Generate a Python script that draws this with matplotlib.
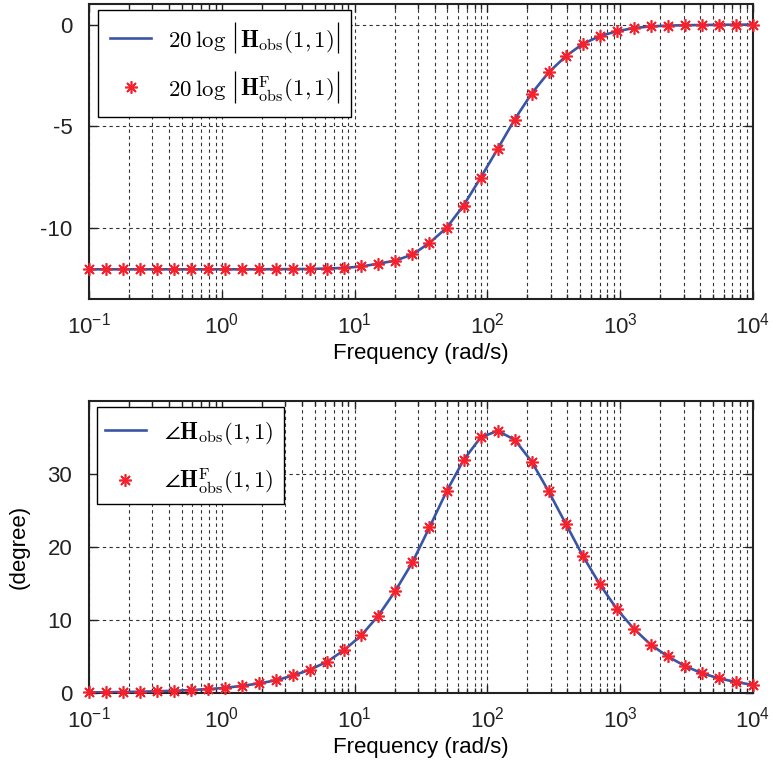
import numpy as np
import matplotlib
matplotlib.use("Agg")
import matplotlib.pyplot as plt
from matplotlib.ticker import LogLocator, NullFormatter, FixedLocator
from matplotlib.offsetbox import (AnchoredOffsetbox, HPacker, VPacker,
                                  TextArea, DrawingArea)
from matplotlib.lines import Line2D

plt.rcParams["font.family"] = ["Liberation Sans", "DejaVu Sans"]
plt.rcParams["axes.unicode_minus"] = False

# Frequency sweep (rad/s)
freq = [0.1, 0.1343, 0.1805, 0.2424, 0.3257, 0.4376, 0.5878, 0.7897,
        1.0608, 1.4251, 1.9145, 2.5721, 3.4551, 4.6416, 6.2355, 8.3768,
        11.253, 15.118, 20.309, 27.283, 36.652, 49.239, 66.147, 88.862,
        119.38, 160.37, 215.44, 289.43, 388.81, 522.33, 701.70, 942.67,
        1266.4, 1701.2, 2285.4, 3070.2, 4124.5, 5541.0, 7443.9, 10000.0]

# Magnitude in dB
mag_db = [-12.04, -12.04, -12.04, -12.04, -12.04, -12.04, -12.04, -12.04,
          -12.04, -12.04, -12.04, -12.03, -12.03, -12.02, -12.00, -11.97,
          -11.90, -11.76, -11.61, -11.31, -10.74, -10.00, -8.90, -7.54,
          -6.12, -4.67, -3.39, -2.35, -1.56, -0.95, -0.57, -0.33,
          -0.17, -0.09, -0.05, -0.03, -0.02, -0.01, -0.005, 0.0]

# Phase in degrees
phase_deg = [0.07, 0.10, 0.13, 0.17, 0.23, 0.30, 0.40, 0.53,
             0.70, 0.98, 1.30, 1.75, 2.40, 3.20, 4.30, 5.90,
             7.90, 10.6, 14.0, 17.9, 22.7, 27.6, 31.9, 35.0,
             35.9, 34.7, 31.7, 27.6, 23.2, 18.8, 14.9, 11.5,
             8.8, 6.6, 5.0, 3.7, 2.7, 2.0, 1.5, 1.1]

# Legend entries: (text before |, text inside |...|) ; None prefix -> no bars
mag_entries = [(r"$20\:\log$", r"$\mathbf{H}_{\rm obs}(1{,}\,1)$"),
               (r"$20\:\log$", r"$\mathbf{H}^{\rm F}_{\rm obs}(1{,}\,1)$")]
phase_entries = [(None, r"$\angle\mathbf{H}_{\rm obs}(1{,}\,1)$"),
                 (None, r"$\angle\mathbf{H}^{\rm F}_{\rm obs}(1{,}\,1)$")]

line_color = "#3A55A5"
mark_color = "#F5222D"
FS = 16
LEG_FS = 16.5

fig = plt.figure(figsize=(7.73, 7.62), dpi=100)
ax1 = fig.add_axes([0.1151, 0.6076, 0.8590, 0.3868])
ax2 = fig.add_axes([0.1151, 0.0906, 0.8590, 0.3832])


def style_axes(ax, ylim, yticks):
    ax.set_xscale("log")
    ax.set_xlim(0.1, 1e4)
    ax.set_ylim(*ylim)
    ax.xaxis.set_major_locator(LogLocator(base=10, numticks=10))
    ax.xaxis.set_minor_locator(LogLocator(base=10, subs=np.arange(2, 10), numticks=100))
    ax.xaxis.set_minor_formatter(NullFormatter())
    ax.yaxis.set_major_locator(FixedLocator(yticks))
    ax.tick_params(which="both", direction="in", top=True, right=True,
                   labelsize=FS, colors="#222222", width=1.0)
    ax.tick_params(which="major", length=6)
    ax.tick_params(which="minor", length=3.5)
    ax.tick_params(axis="x", which="major", pad=10)
    ax.tick_params(axis="y", which="major", pad=12)
    ax.grid(True, which="major", axis="both", linestyle=(0, (3, 3)),
            color="#333333", linewidth=0.8)
    ax.grid(True, which="minor", axis="x", linestyle=(0, (3, 3)),
            color="#333333", linewidth=0.8)
    for s in ax.spines.values():
        s.set_linewidth(1.5)
        s.set_color("#222222")
    ax.set_xlabel("Frequency (rad/s)", fontsize=FS, labelpad=3)


BAR_H, BAR_D = 18.0, 4.5


def spacer(w):
    return DrawingArea(w, 0, 0, 0)


def bar(visible=True):
    da = DrawingArea(2.0, BAR_H + BAR_D, 0, BAR_D)
    if visible:
        da.add_artist(Line2D([1.0, 1.0], [-BAR_D, BAR_H], color="black",
                             linewidth=0.9, solid_capstyle="butt"))
    return da


def handle(kind):
    da = DrawingArea(30.0, BAR_H + BAR_D, 0, BAR_D)
    if kind == "line":
        da.add_artist(Line2D([0, 30], [6.5, 6.5], color=line_color, linewidth=1.9))
    else:
        da.add_artist(Line2D([15], [6.5], linestyle="none", marker=(8, 2, 0),
                             markersize=9, markeredgewidth=1.2, color=mark_color))
    return da


def text(s):
    return TextArea(s, textprops=dict(fontsize=LEG_FS, math_fontfamily="cm",
                                      color="black"))


def legend_box(ax, entries, anchor, pad, gap):
    rows = []
    for kind, (pre, body) in zip(["line", "marker"], entries):
        kids = [handle(kind), spacer(gap)]
        if pre is not None:
            kids += [text(pre), spacer(5.0), bar(), spacer(2.5), text(body),
                     spacer(2.0), bar()]
        else:
            kids += [text(body), bar(False)]
        rows.append(HPacker(children=kids, align="baseline", pad=0, sep=0))
    col = VPacker(children=rows, align="left", pad=0, sep=12)
    box = AnchoredOffsetbox(loc="upper left", child=col, pad=pad, borderpad=0,
                            prop=dict(size=17), frameon=True,
                            bbox_to_anchor=anchor, bbox_transform=ax.transAxes)
    box.patch.set_boxstyle("square", pad=0)
    box.patch.set_edgecolor("black")
    box.patch.set_linewidth(1.0)
    box.patch.set_facecolor("white")
    box.set_zorder(6)
    ax.add_artist(box)


def draw(ax, y):
    ax.plot(freq, y, color=line_color, linewidth=1.9, zorder=3)
    ax.plot(freq, y, linestyle="none", marker=(8, 2, 0), markersize=9,
            markeredgewidth=1.2, color=mark_color, clip_on=False, zorder=4)


style_axes(ax1, (-13.5, 1.0), [-10, -5, 0])
draw(ax1, mag_db)
legend_box(ax1, mag_entries, (0.0136, 0.981), 0.5, 12)

style_axes(ax2, (0, 40), [0, 10, 20, 30])
draw(ax2, phase_deg)
legend_box(ax2, phase_entries, (0.0128, 0.979), 0.3, 13)
ax2.set_ylabel("(degree)", fontsize=FS, labelpad=13)

fig.savefig("out.png", dpi=100)
